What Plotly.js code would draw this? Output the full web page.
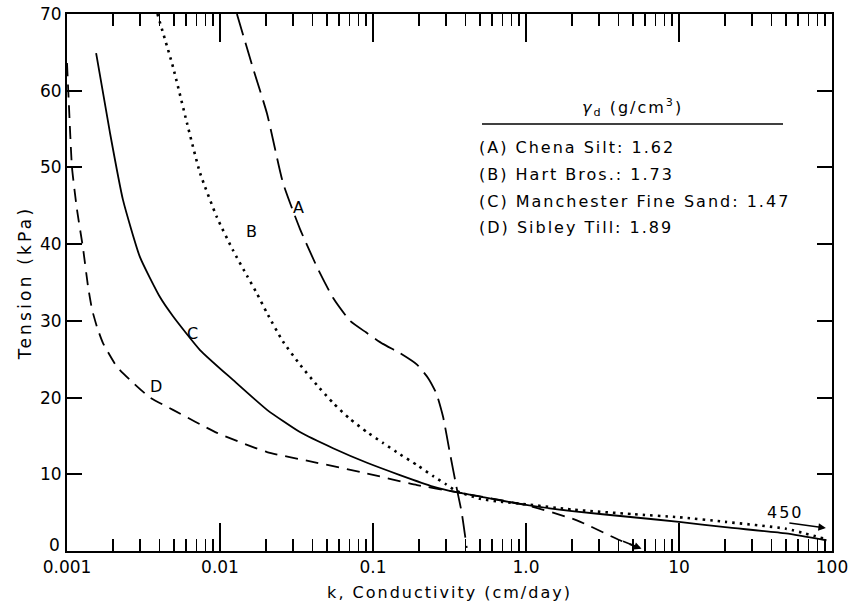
<!DOCTYPE html>
<html>
<head>
<meta charset="utf-8">
<script src="https://cdn.plot.ly/plotly-3.0.1.min.js"></script>
<style>
html,body{margin:0;padding:0;background:#fff;}
#chart{width:852px;height:608px;}
#chart .xtitle{letter-spacing:2px;}
#chart .ytitle{letter-spacing:3.2px;}
#chart .annotation-text{letter-spacing:2px;}
</style>
</head>
<body>
<div id="chart"></div>
<script>
// ---- Data ----
// (A) Chena Silt
const kA = [0.0129, 0.0164, 0.0203, 0.0258, 0.0333, 0.0431, 0.0548, 0.0708, 0.09, 0.116, 0.15, 0.194, 0.23, 0.26, 0.287, 0.318, 0.354, 0.38, 0.41];
const tA = [70, 63, 57, 48, 42, 37, 33, 30, 28.5, 27, 25.8, 24.3, 22.5, 20.5, 17.5, 12.8, 8.0, 5.0, 0.4];
// (B) Hart Bros.
const kB = [0.0039, 0.00493, 0.00608, 0.0074, 0.00955, 0.01216, 0.0150, 0.0175, 0.0203, 0.0258, 0.0333, 0.0431, 0.0548, 0.0708, 0.0914, 0.116, 0.15, 0.194, 0.25, 0.30, 0.344, 0.5, 0.7, 1.0, 2.0, 5.0, 10, 20, 50, 93];
const tB = [70, 63.1, 55.8, 49.3, 43.5, 39.2, 35.9, 33.5, 31.0, 27.3, 24.3, 21.6, 19.3, 17.2, 15.5, 14.1, 12.6, 11.2, 9.7, 8.7, 7.9, 6.8, 6.4, 6.1, 5.4, 4.8, 4.4, 3.8, 2.9, 1.5];
// (C) Manchester Fine Sand
const kC = [0.00155, 0.00191, 0.00232, 0.0030, 0.00405, 0.00493, 0.0074, 0.01216, 0.0203, 0.0333, 0.0548, 0.0914, 0.15, 0.247, 0.344, 0.5, 1.0, 2.0, 5.0, 10, 20, 50, 92];
const tC = [64.9, 54.5, 45.8, 38.3, 33.1, 30.6, 26.2, 22.3, 18.4, 15.5, 13.4, 11.5, 9.9, 8.4, 7.7, 7.1, 6.0, 5.2, 4.4, 3.8, 3.1, 2.3, 1.4];
// (D) Sibley Till
const kD = [0.00100, 0.00103, 0.001078, 0.001162, 0.001272, 0.001372, 0.001457, 0.001571, 0.001719, 0.002122, 0.002581, 0.003487, 0.00493, 0.00956, 0.0203, 0.0431, 0.0914, 0.194, 0.344, 1.0, 2.15, 4.11, 5.56];
const tD = [63.6, 58, 50, 44.5, 39.5, 34.5, 31.5, 29.2, 27.1, 24.0, 22.3, 20.0, 18.4, 15.4, 12.9, 11.5, 10.1, 8.6, 7.7, 6.0, 4.0, 1.4, 0.4];

const xTickVals = [0.001, 0.01, 0.1, 1, 10, 100];
const xTickText = ["0.001", "0.01", "0.1", "1.0", "10", "100"];
const yTickVals = [10, 20, 30, 40, 50, 60, 70];
const yZeroLabel = "0"; // drawn slightly raised, as in the reference

const legendTitle = "<i>γ</i><sub>d</sub> (g/cm<sup>3</sup>)";
const legendItems = ["(A) Chena Silt: 1.62", "(B) Hart Bros.: 1.73", "(C) Manchester Fine Sand: 1.47", "(D) Sibley Till: 1.89"];
const curveLabels = ["A", "B", "C", "D"];
const offScaleLabel = "450";

// minor tick positions of the log axis (2..9 in each decade)
const xMinor = [];
for (let e = -3; e < 2; e++) for (let m = 2; m <= 9; m++) xMinor.push(m * Math.pow(10, e));

const FONT = "DejaVu Sans";
const line = (dash, w) => ({color: "#000", width: w, dash: dash, shape: "spline", smoothing: 0.5});

const traces = [
  {x: kA, y: tA, mode: "lines", line: line("22px,8px", 1.8), name: "A"},
  {x: kB, y: tB, mode: "lines", line: line("2.5px,5px", 2.6), name: "B"},
  {x: kC, y: tC, mode: "lines", line: line("solid", 1.8), name: "C"},
  {x: kD, y: tD, mode: "lines", line: line("13px,8px", 1.8), name: "D"}
];

const labelPos = [[0.0333, 44.8], [0.0162, 41.7], [0.00667, 28.4], [0.00387, 21.4]];
const annotations = curveLabels.map((t, i) => ({
  x: Math.log10(labelPos[i][0]), y: labelPos[i][1], xref: "x", yref: "y",
  xanchor: "center", yanchor: "middle",
  text: t, showarrow: false, font: {family: FONT, size: 16, color: "#000"}
}));

annotations.push({x: 0.7386, y: 0.8268, xref: "paper", yref: "paper", xanchor: "center", yanchor: "middle",
  text: legendTitle, showarrow: false, font: {family: FONT, size: 16, color: "#000"}});
const legY = [0.7523, 0.7015, 0.650, 0.6015];
legendItems.forEach((t, i) => annotations.push({
  x: 0.536, y: legY[i], xref: "paper", yref: "paper", xanchor: "left", yanchor: "middle", align: "left",
  text: t, showarrow: false, font: {family: FONT, size: 16, color: "#000"}
}));
annotations.push({x: 0.9386, y: 0.0708, xref: "paper", yref: "paper", xanchor: "center", yanchor: "middle",
  text: offScaleLabel, showarrow: false, font: {family: FONT, size: 16, color: "#000"}});
// arrow to the off-scale value (450)
annotations.push({x: 0.992, y: 0.043, xref: "paper", yref: "paper", text: "",
  showarrow: true, ax: -38, ay: -5, arrowhead: 2, arrowsize: 1, arrowwidth: 1.5, arrowcolor: "#000"});
// arrow head at the end of curve D
annotations.push({x: Math.log10(kD[kD.length - 1]) + 0.01, y: tD[tD.length - 1] - 0.1, xref: "x", yref: "y", text: "",
  showarrow: true, ax: -20, ay: -8, arrowhead: 2, arrowsize: 1, arrowwidth: 1.5, arrowcolor: "#000"});
annotations.push({x: -0.0045, y: 0.012, xref: "paper", yref: "paper", xanchor: "right", yanchor: "middle", align: "right",
  text: yZeroLabel, showarrow: false, font: {family: FONT, size: 17, color: "#000"}});

const layout = {
  width: 852, height: 608,
  margin: {l: 67, r: 20, t: 14, b: 57},
  paper_bgcolor: "#fff", plot_bgcolor: "#fff",
  showlegend: false,
  font: {family: FONT, color: "#000"},
  xaxis: {
    type: "log", range: [-3, 2],
    tickmode: "array", tickvals: xTickVals, ticktext: xTickText,
    ticks: "inside", ticklen: 28, tickwidth: 1.5, tickcolor: "#000",
    minor: {tickmode: "array", tickvals: xMinor, ticks: "inside", ticklen: 12, tickwidth: 1.2, tickcolor: "#000", showgrid: false},
    showline: true, linecolor: "#000", linewidth: 2, mirror: "allticks",
    showgrid: false, zeroline: false,
    tickfont: {family: FONT, size: 17, color: "#000"},
    title: {text: "k, Conductivity (cm/day)", font: {family: FONT, size: 16, color: "#000"}, standoff: 10}
  },
  yaxis: {
    range: [0, 70], tickmode: "array", tickvals: yTickVals,
    ticks: "inside", ticklen: 15, tickwidth: 2, tickcolor: "#000",
    showline: true, linecolor: "#000", linewidth: 2, mirror: "allticks",
    showgrid: false, zeroline: false,
    tickfont: {family: FONT, size: 17, color: "#000"},
    title: {text: "Tension (kPa)", font: {family: FONT, size: 17, color: "#000"}, standoff: 4}
  },
  shapes: [{type: "line", xref: "paper", yref: "paper", x0: 0.5425, x1: 0.936, y0: 0.7952, y1: 0.7952,
    line: {color: "#000", width: 1.5}}],
  annotations: annotations
};

Plotly.newPlot("chart", traces, layout, {staticPlot: true, displayModeBar: false});
</script>
</body>
</html>
